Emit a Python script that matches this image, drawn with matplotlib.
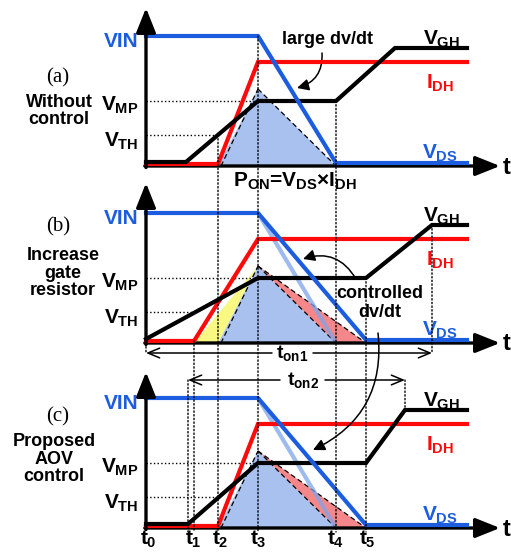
import matplotlib
matplotlib.use("Agg")
import matplotlib.pyplot as plt
from matplotlib.patches import ConnectionPatch

plt.rcParams['font.family'] = ['Liberation Sans', 'DejaVu Sans']
plt.rcParams['font.weight'] = 'bold'
plt.rcParams['mathtext.fontset'] = 'custom'
plt.rcParams['mathtext.rm'] = 'Liberation Sans:bold'
plt.rcParams['mathtext.it'] = 'Liberation Sans:bold'
plt.rcParams['mathtext.bf'] = 'Liberation Sans:bold'

# time instants (a.u.), t0 at the origin
t_labels = ['$t_0$', '$t_1$', '$t_2$', '$t_3$', '$t_4$', '$t_5$']
t_marks = [0, 42, 72, 112, 190, 220]
t_axis_end = 354

# signal levels (a.u.)
VTH = 31
VMP = 65
P_PEAK = 77
IDH = 104
VGH = 118
VIN = 130

# (a) without control
a_vgs_t = [0, 40, 112, 190, 249, 321]
a_vgs_v = [4, 4, VMP, VMP, VGH, VGH]
a_idh_t = [0, 72, 112, 321]
a_idh_v = [2, 2, IDH, IDH]
a_vds_t = [0, 112, 190, 321]
a_vds_v = [VIN, VIN, 3, 3]

# (b) increase gate resistor
b_vgs_t = [0, 112, 220, 286, 321]
b_vgs_v = [4, VMP, VMP, VGH, VGH]
b_idh_t = [0, 48, 112, 321]
b_idh_v = [2, 2, IDH, IDH]
b_vds_t = [0, 112, 220, 321]
b_vds_v = [VIN, VIN, 3, 3]

# (c) proposed AOV control
c_vgs_t = [0, 42, 112, 220, 259, 321]
c_vgs_v = [4, 4, VMP, VMP, VGH, VGH]
c_idh_t = [0, 72, 112, 321]
c_idh_v = [2, 2, IDH, IDH]
c_vds_t = [0, 112, 220, 321]
c_vds_v = [VIN, VIN, 3, 3]

# VDS slope of (a), repeated in (b) and (c)
ref_vds_t = [112, 190]
ref_vds_v = [VIN, 0]

# switching loss P_ON triangles
base_loss_t = [72, 112, 190]
base_loss_v = [0, P_PEAK, 0]
extra_rise_t = [48, 112, 72]      # (b) only, yellow
extra_rise_v = [0, P_PEAK, 0]
extra_fall_t = [112, 220, 190]    # (b) and (c), red
extra_fall_v = [P_PEAK, 0, 0]

# on-time spans
ton1 = [0, 286]
ton2 = [42, 259]

BLUE = '#1c5de0'
RED = '#ff0a0a'
LIGHT = '#7ea4ea'
FILL_BLUE = '#a9c1ee'
FILL_RED = '#f5878a'
FILL_YEL = '#f8f883'

fig = plt.figure(figsize=(5.11, 5.53), dpi=100)


def panel_axes(base_px):
    ax = fig.add_axes([0, 0, 1, 1])
    ax.set_xlim(-146, 365)
    ax.set_ylim(base_px - 553, base_px)
    ax.axis('off')
    ax.patch.set_alpha(0)
    return ax


def draw_panel(ax, vgs, idh, vds, vth_end, top, letter, desc, desc_x, desc_y,
               letter_y, ref=False, rise=False, fall=False):
    ax.fill(base_loss_t, base_loss_v, color=FILL_BLUE, lw=0, zorder=1)
    if rise:
        ax.fill(extra_rise_t, extra_rise_v, color=FILL_YEL, lw=0, zorder=1)
    if fall:
        ax.fill(extra_fall_t, extra_fall_v, color=FILL_RED, lw=0, zorder=1)
    # dashed outline of the loss triangle
    ax.plot([base_loss_t[0] + 3, 112], [0, P_PEAK], 'k--', lw=0.9, dashes=(4, 2.5), zorder=2)
    ax.plot([112, 190], [P_PEAK, 0], 'k--', lw=0.9, dashes=(4, 2.5), zorder=2)
    if fall:
        ax.plot([112, 220], [P_PEAK, 0], 'k--', lw=0.9, dashes=(4, 2.5), zorder=2)
    if ref:
        ax.plot(ref_vds_t, ref_vds_v, color=LIGHT, lw=3, alpha=0.75,
                solid_capstyle='butt', zorder=2.5)
    # guide lines
    ax.plot([0, 112], [VMP, VMP], 'k:', lw=1, zorder=1.5)
    ax.plot([0, vth_end], [VTH, VTH], 'k:', lw=1, zorder=1.5)
    # axes
    ax.annotate('', xy=(0, top), xytext=(0, -1.5),
                arrowprops=dict(arrowstyle='-|>,head_length=0.75,head_width=0.3',
                                lw=2.4, color='k', mutation_scale=20, shrinkA=0, shrinkB=0),
                zorder=6)
    ax.annotate('', xy=(t_axis_end, 0), xytext=(-1.2, 0),
                arrowprops=dict(arrowstyle='-|>,head_length=0.75,head_width=0.3',
                                lw=2.4, color='k', mutation_scale=20, shrinkA=0, shrinkB=0),
                zorder=3)
    ax.text(357, -1, 't', fontsize=17, ha='left', va='center')
    # waveforms
    ax.plot(*idh, color=RED, lw=3, solid_joinstyle='miter', zorder=4)
    ax.plot(*vgs, color='k', lw=3, solid_joinstyle='miter', zorder=4.5)
    ax.plot(*vds, color=BLUE, lw=3, solid_joinstyle='miter', zorder=5)
    # level labels
    ax.text(-8, VIN - 11, 'VIN', color=BLUE, fontsize=15, ha='right', va='baseline')
    ax.text(-8, VMP - 10, '$V_{MP}$', fontsize=15, ha='right', va='baseline')
    ax.text(-8, VTH - 12, '$V_{TH}$', fontsize=15, ha='right', va='baseline')
    ax.text(277, VGH + 3, '$V_{GH}$', fontsize=15, ha='left', va='baseline')
    ax.text(280, 77, '$I_{DH}$', color=RED, fontsize=15, ha='left', va='baseline')
    ax.text(276, 7, '$V_{DS}$', color=BLUE, fontsize=15, ha='left', va='baseline')
    # panel description
    ax.text(-88, letter_y, letter, family='Liberation Serif', fontweight='normal',
            fontsize=15, ha='center', va='center')
    ax.text(desc_x, desc_y, desc, fontsize=13, ha='center', va='center',
            multialignment='center', linespacing=1.05)


ax_a = panel_axes(166)
ax_b = panel_axes(343)
ax_c = panel_axes(528)

draw_panel(ax_a, (a_vgs_t, a_vgs_v), (a_idh_t, a_idh_v), (a_vds_t, a_vds_v),
           72, 158, '(a)', 'Without\ncontrol', -87, 55, 88)
draw_panel(ax_b, (b_vgs_t, b_vgs_v), (b_idh_t, b_idh_v), (b_vds_t, b_vds_v),
           48, 160, '(b)', 'Increase\ngate\nresistor', -83, 70, 116,
           ref=True, rise=True, fall=True)
draw_panel(ax_c, (c_vgs_t, c_vgs_v), (c_idh_t, c_idh_v), (c_vds_t, c_vds_v),
           72, 156, '(c)', 'Proposed\nAOV\ncontrol', -92, 69, 111,
           ref=True, fall=True)

# annotations in (a)
ax_a.text(181, 126, 'large dv/dt', fontsize=13, ha='center', va='center')
ax_a.annotate('', xy=(151, 78), xytext=(176, 113),
              arrowprops=dict(arrowstyle='-|>,head_length=0.5,head_width=0.25',
                              connectionstyle='arc3,rad=-0.4', lw=1.1, color='k',
                              mutation_scale=14, shrinkA=0, shrinkB=0))
ax_a.text(87, -21, 'P$_{ON}$=V$_{DS}$×I$_{DH}$', fontsize=15, ha='left', va='baseline')

# annotations in (b)
ax_b.text(234, 40, 'controlled\ndv/dt', fontsize=13, ha='center', va='center',
          multialignment='center', linespacing=1.1, zorder=7)
ax_b.annotate('', xy=(157, 84), xytext=(210, 64),
              arrowprops=dict(arrowstyle='-|>,head_length=0.5,head_width=0.25',
                              connectionstyle='arc3,rad=0.4', lw=1.1, color='k',
                              mutation_scale=14, shrinkA=0, shrinkB=0))
con = ConnectionPatch(xyA=(232, 10), coordsA=ax_b.transData,
                      xyB=(167, 78), coordsB=ax_c.transData,
                      arrowstyle='-|>,head_length=0.5,head_width=0.25',
                      connectionstyle='arc3,rad=-0.35', lw=1.1, color='k',
                      mutation_scale=14, shrinkA=0, shrinkB=0, zorder=8)
fig.add_artist(con)

# on-time arrows
ax_b.text(146, -10, '$t_{on1}$', fontsize=14, ha='center', va='center')
ax_b.annotate('', xy=(ton1[0], -10), xytext=(126, -10),
              arrowprops=dict(arrowstyle='->,head_length=0.6,head_width=0.25', lw=1.1,
                              color='k', mutation_scale=14, shrinkA=0, shrinkB=0))
ax_b.annotate('', xy=(ton1[1], -10), xytext=(167, -10),
              arrowprops=dict(arrowstyle='->,head_length=0.6,head_width=0.25', lw=1.1,
                              color='k', mutation_scale=14, shrinkA=0, shrinkB=0))
ax_b.text(157, -37, '$t_{on2}$', fontsize=14, ha='center', va='center')
ax_b.annotate('', xy=(ton2[0], -37), xytext=(134, -37),
              arrowprops=dict(arrowstyle='->,head_length=0.6,head_width=0.25', lw=1.1,
                              color='k', mutation_scale=14, shrinkA=0, shrinkB=0))
ax_b.annotate('', xy=(ton2[1], -37), xytext=(179, -37),
              arrowprops=dict(arrowstyle='->,head_length=0.6,head_width=0.25', lw=1.1,
                              color='k', mutation_scale=14, shrinkA=0, shrinkB=0))


def vdot(x, ax1, y1, ax2, y2):
    c = ConnectionPatch(xyA=(x, y1), coordsA=ax1.transData,
                        xyB=(x, y2), coordsB=ax2.transData,
                        linestyle=':', lw=1, color='k', zorder=1.5)
    fig.add_artist(c)


# dotted time markers across the panels
vdot(t_marks[2], ax_a, VTH, ax_c, -4)
vdot(t_marks[3], ax_a, VIN, ax_c, -4)
vdot(t_marks[4], ax_a, VMP, ax_c, -4)
vdot(b_idh_t[1], ax_b, 2, ax_c, -4)
vdot(ton2[0], ax_b, -37, ax_c, -4)
vdot(t_marks[5], ax_b, VMP, ax_c, -4)
vdot(ton1[0], ax_b, 0, ax_b, -10)
vdot(ton1[1], ax_b, VGH, ax_b, -10)
vdot(ton2[1], ax_b, -37, ax_c, VGH)

# time labels under (c)
t_label_x = [2, 47, 74, 112, 190, 221]
for lx, lab in zip(t_label_x, t_labels):
    ax_c.text(lx, -17, lab, fontsize=15, ha='center', va='baseline')

fig.savefig('out.png', dpi=100)
